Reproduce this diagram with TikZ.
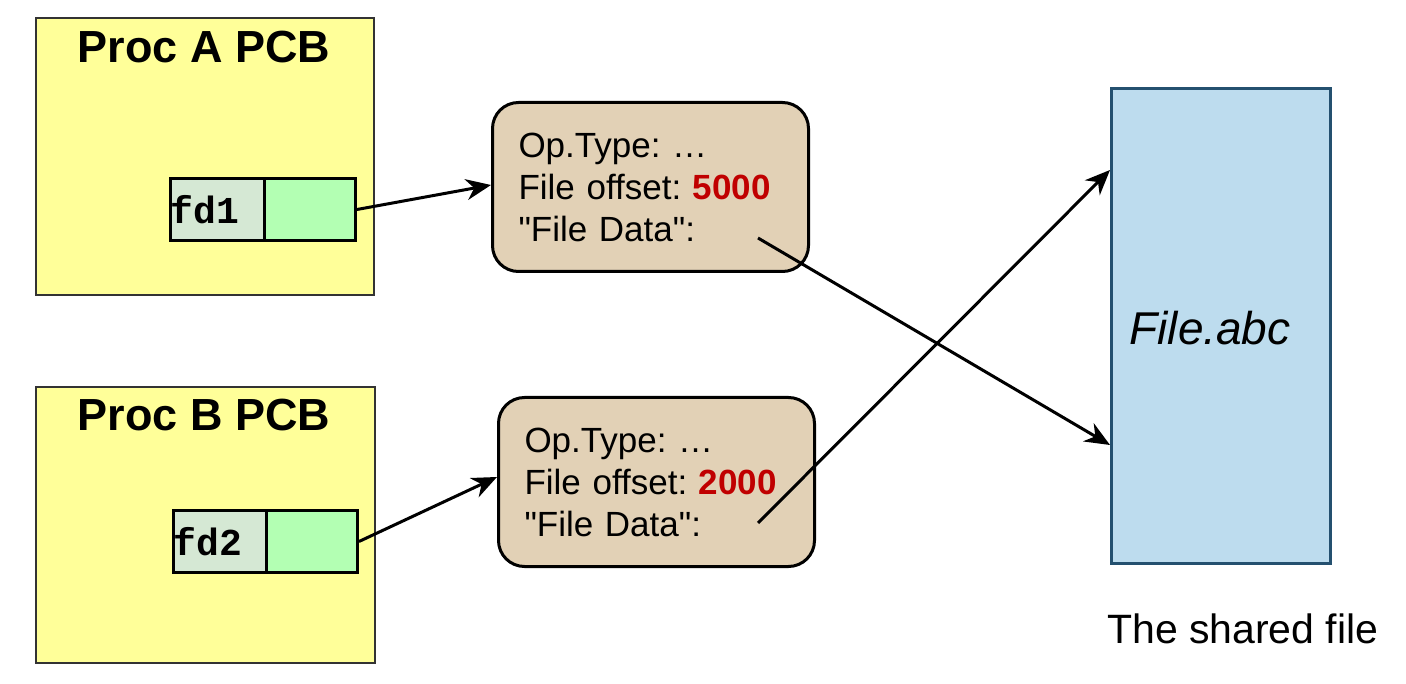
\documentclass[tikz,border=0pt]{standalone}
\usepackage{fontspec}
\setmainfont{Liberation Sans}[Ligatures=TeXOff]
\setmonofont{Liberation Mono}
\usetikzlibrary{arrows.meta}
\frenchspacing
\definecolor{pcbyellow}{HTML}{FFFF99}
\definecolor{fdcell}{HTML}{D5E8D4}
\definecolor{ptrcell}{HTML}{B3FFB3}
\definecolor{opfill}{HTML}{E2D1B6}
\definecolor{filefill}{HTML}{BDDCEE}
\definecolor{filedraw}{HTML}{24506F}
\definecolor{offred}{HTML}{C00000}
\tikzset{
  pcb/.style={draw=black!80, line width=2pt, fill=pcbyellow, anchor=north west, inner sep=0pt},
  pcbtitle/.style={font=\fontsize{45}{50}\selectfont\bfseries, inner sep=0pt},
  fdbox/.style={draw=black, line width=3pt, fill=fdcell, anchor=north west, inner sep=0pt,
     minimum width=94pt, minimum height=62pt, font=\fontsize{38}{40}\selectfont\ttfamily\bfseries},
  ptrbox/.style={draw=black, line width=3pt, fill=ptrcell, anchor=north west, inner sep=0pt,
     minimum width=91pt, minimum height=62pt},
  opbox/.style={draw=black, line width=3pt, fill=opfill, rounded corners=26pt, anchor=north west,
     minimum width=316pt, minimum height=169pt, inner sep=0pt, text width=264pt, align=left,
     font=\fontsize{35}{42}\selectfont},
  filebox/.style={draw=filedraw, line width=3pt, fill=filefill, anchor=north west, inner sep=0pt,
     minimum width=219pt, minimum height=475pt},
  conn/.style={line width=3pt, -{Stealth[length=25pt, width=21pt, inset=8pt]}},
}
\begin{document}
\begin{tikzpicture}[x=1pt, y=-1pt]
\useasboundingbox (0,0) rectangle (1406,684);
% PCBs
\node[pcb, minimum width=338pt, minimum height=277pt] (pcba) at (35,17) {};
\node[pcbtitle] (tA) at (204,47) {Proc A PCB};
\node[pcb, minimum width=339pt, minimum height=276pt] (pcbb) at (35,386) {};
\node[pcbtitle] (tB) at (204,415) {Proc B PCB};
% fd cells
\node[fdbox, text width=94pt, align=left] (fd1) at (169,177) {fd1};
\node[ptrbox] (p1) at (263,177) {};
\node[fdbox, text width=94pt, align=left] (fd2) at (172,509) {fd2};
\node[ptrbox] (p2) at (265,509) {};
% open file entries
\node[opbox] (opa) at (491,101) {Op.Type: …\\File offset: {\bfseries\color{offred}5000}\\"File Data":};
\node[opbox] (opb) at (497,396) {Op.Type: …\\File offset: {\bfseries\color{offred}2000}\\"File Data":};
% file
\node[filebox] (file) at (1110,87) {};
\node[font=\fontsize{46}{50}\selectfont\itshape, inner sep=0pt] (fname) at (1210,328) {File.abc};
\node[font=\fontsize{41}{46}\selectfont, anchor=west, inner sep=0pt] (shared) at (1107,629) {The shared file};
% connectors
\coordinate (da) at (758,238);
\coordinate (db) at (758,523);
\coordinate (fa) at (1110,445);
\coordinate (fb) at (1110,170);
\draw[conn] (p1.east) -- (opa.west |- 0,185);
\draw[conn] (p2.east) -- (opb.west |- 0,477);
\draw[conn] (da) -- (fa);
\draw[conn] (db) -- (fb);
\end{tikzpicture}
\end{document}
